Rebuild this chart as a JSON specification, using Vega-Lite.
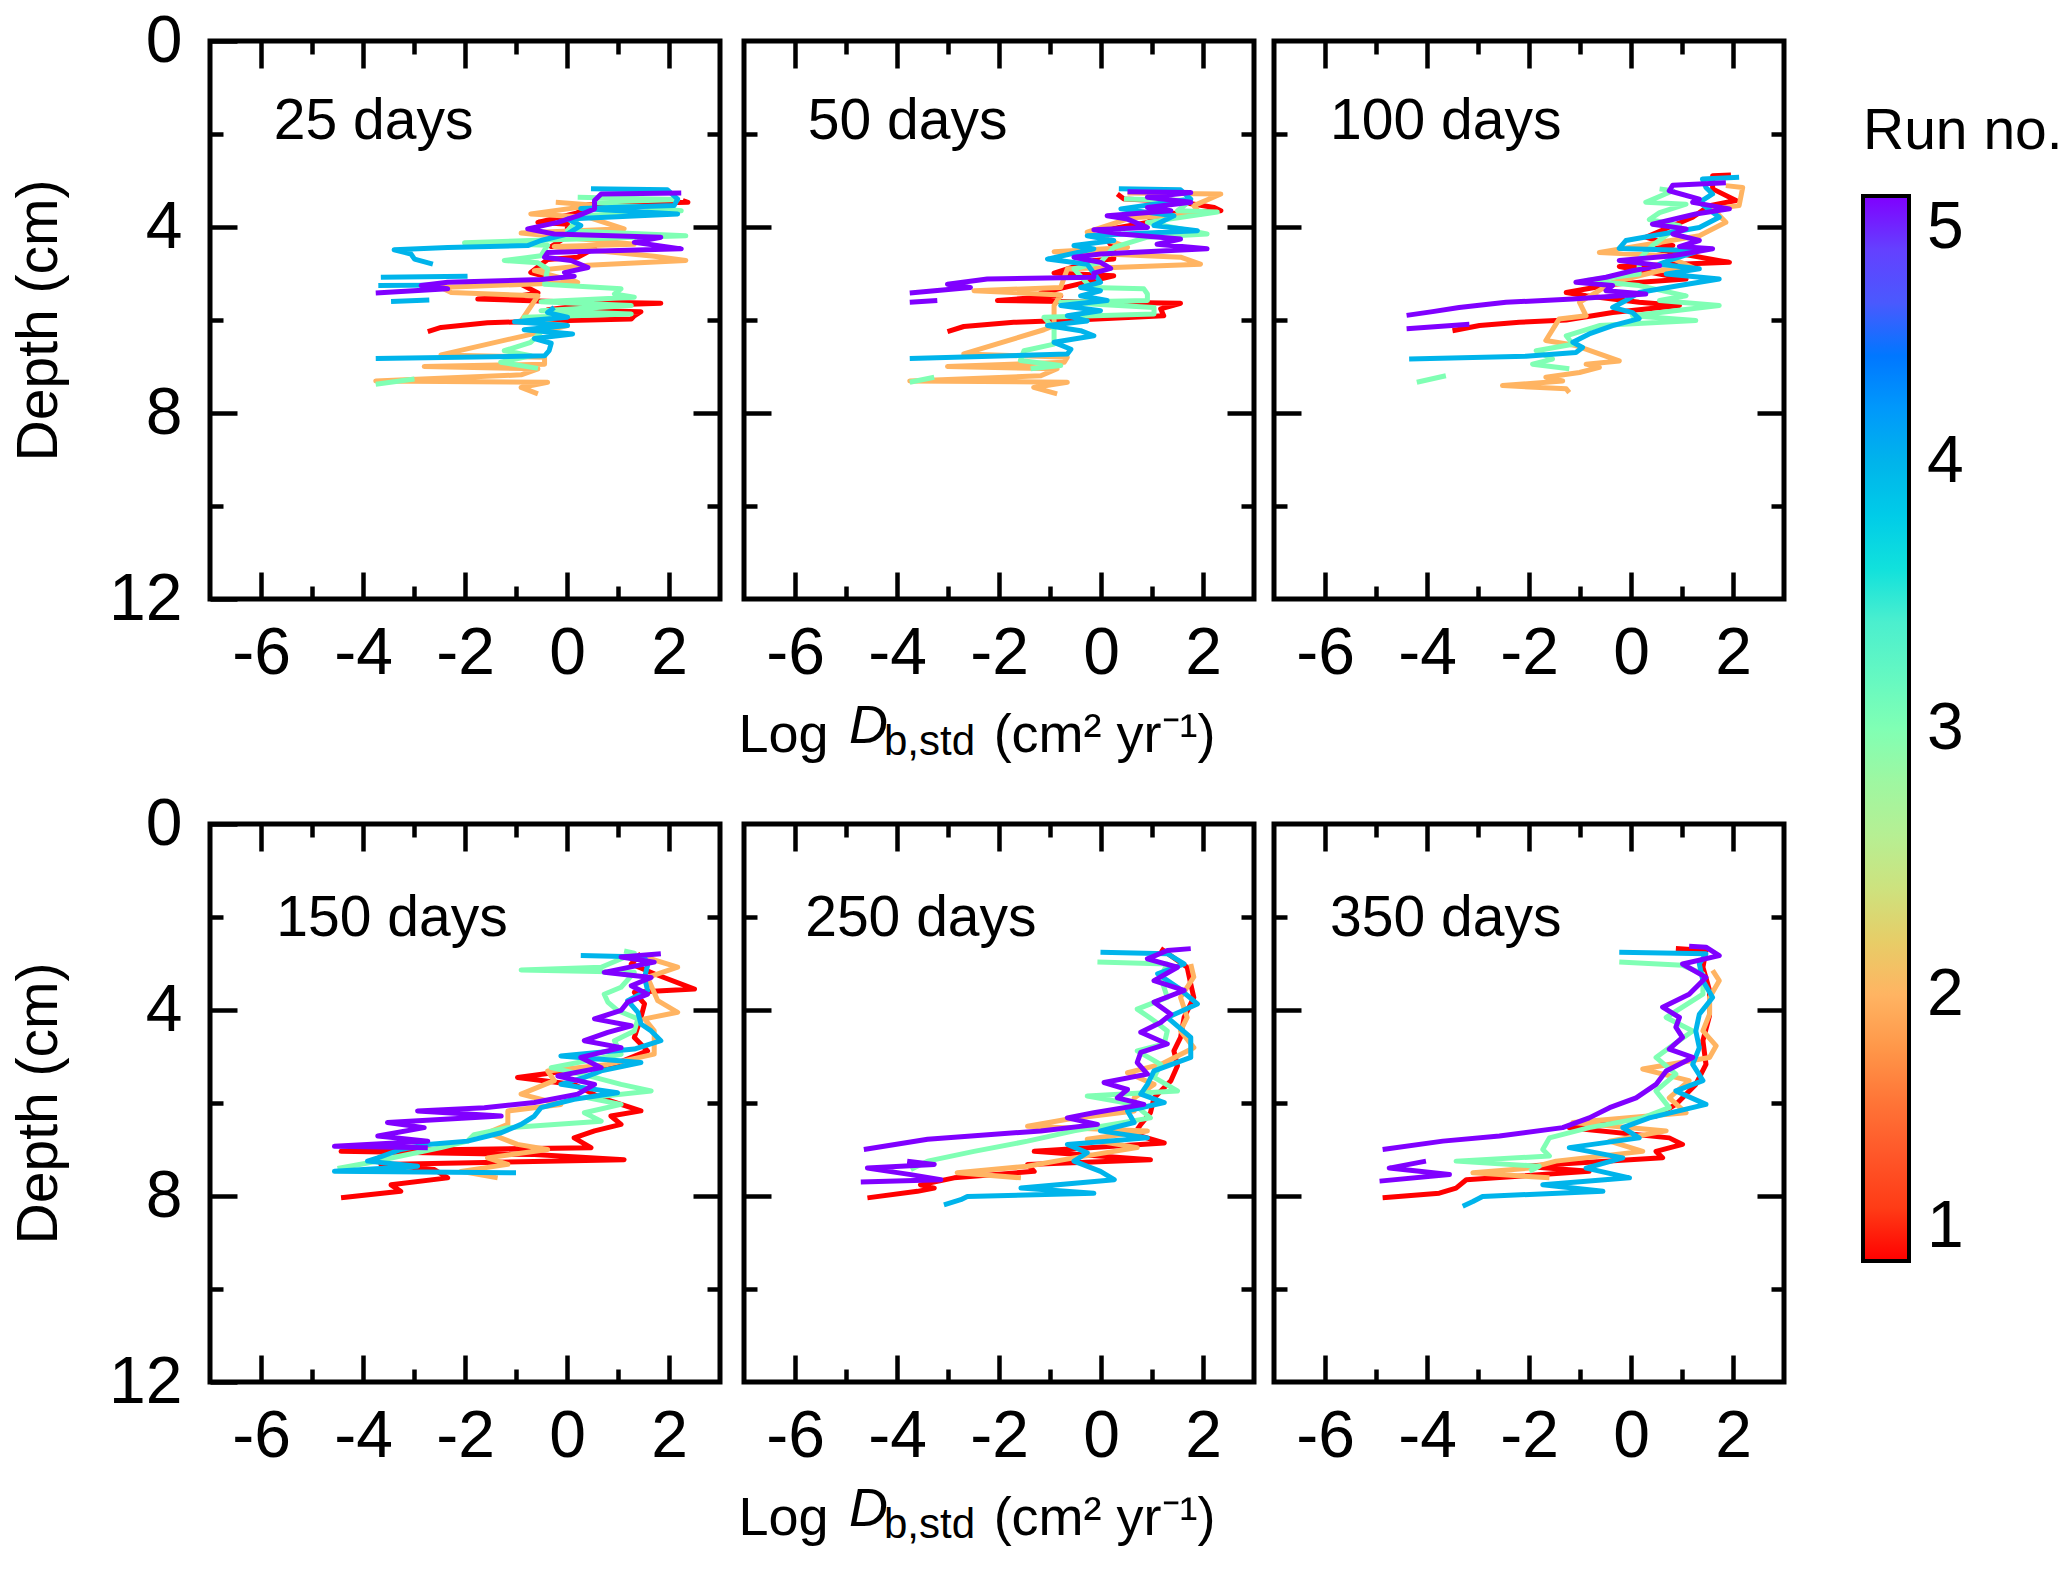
{
"$schema":"https://vega.github.io/schema/vega-lite/v6.json",
"background":"white",
"padding":{"left":8,"top":5,"right":0,"bottom":0},
"datasets":{"lab":[{}]},
"data":{"values":[
{"p":1,"r":1,"s":0,"d":3.43,"v":2.27},{"p":1,"r":1,"s":0,"d":3.47,"v":2.37},{"p":1,"r":1,"s":0,"d":3.52,"v":0.4},{"p":1,"r":1,"s":0,"d":3.70,"v":0.2},{"p":1,"r":1,"s":0,"d":3.90,"v":-0.57},{"p":1,"r":1,"s":0,"d":3.94,"v":0.01},{"p":1,"r":1,"s":0,"d":4.20,"v":0.0},{"p":1,"r":1,"s":0,"d":4.42,"v":-0.31},{"p":1,"r":1,"s":0,"d":4.46,"v":0.54},{"p":1,"r":1,"s":0,"d":4.65,"v":0.21},{"p":1,"r":1,"s":0,"d":4.70,"v":-0.38},{"p":1,"r":1,"s":0,"d":4.98,"v":-0.71},{"p":1,"r":1,"s":0,"d":5.10,"v":-0.3},{"p":1,"r":1,"s":0,"d":5.23,"v":-0.90},{"p":1,"r":1,"s":0,"d":5.42,"v":-0.57},{"p":1,"r":1,"s":0,"d":5.48,"v":-0.90},{"p":1,"r":1,"s":0,"d":5.55,"v":-1.75},{"p":1,"r":1,"s":0,"d":5.60,"v":-0.25},{"p":1,"r":1,"s":0,"d":5.64,"v":1.84},{"p":1,"r":1,"s":0,"d":5.70,"v":0.2},{"p":1,"r":1,"s":0,"d":5.78,"v":-0.38},{"p":1,"r":1,"s":0,"d":5.82,"v":1.45},{"p":1,"r":1,"s":0,"d":5.91,"v":1.32},{"p":1,"r":1,"s":0,"d":5.98,"v":1.26},{"p":1,"r":1,"s":0,"d":6.02,"v":-0.38},{"p":1,"r":1,"s":0,"d":6.06,"v":-1.56},{"p":1,"r":1,"s":0,"d":6.16,"v":-2.47},{"p":1,"r":1,"s":0,"d":6.25,"v":-2.73},
{"p":1,"r":2,"s":0,"d":3.47,"v":-0.22},{"p":1,"r":2,"s":0,"d":3.53,"v":0.54},{"p":1,"r":2,"s":0,"d":3.72,"v":-0.71},{"p":1,"r":2,"s":0,"d":3.79,"v":0.41},{"p":1,"r":2,"s":0,"d":4.04,"v":1.12},{"p":1,"r":2,"s":0,"d":4.13,"v":-0.90},{"p":1,"r":2,"s":0,"d":4.37,"v":1.32},{"p":1,"r":2,"s":0,"d":4.42,"v":-0.25},{"p":1,"r":2,"s":0,"d":4.63,"v":1.71},{"p":1,"r":2,"s":0,"d":4.72,"v":2.33},{"p":1,"r":2,"s":0,"d":4.82,"v":0.41},{"p":1,"r":2,"s":0,"d":4.94,"v":-0.64},{"p":1,"r":2,"s":0,"d":5.19,"v":0.21},{"p":1,"r":2,"s":0,"d":5.30,"v":-2.47},{"p":1,"r":2,"s":0,"d":5.41,"v":-2.27},{"p":1,"r":2,"s":0,"d":5.48,"v":-0.57},{"p":1,"r":2,"s":0,"d":6.02,"v":-0.90},{"p":1,"r":2,"s":0,"d":6.12,"v":0.01},{"p":1,"r":2,"s":0,"d":6.34,"v":-0.84},{"p":1,"r":2,"s":0,"d":6.75,"v":-2.47},{"p":1,"r":2,"s":0,"d":6.80,"v":-0.44},{"p":1,"r":2,"s":0,"d":6.95,"v":-0.44},{"p":1,"r":2,"s":0,"d":7.00,"v":-2.80},{"p":1,"r":2,"s":0,"d":7.05,"v":-0.57},{"p":1,"r":2,"s":0,"d":7.18,"v":-0.90},{"p":1,"r":2,"s":0,"d":7.31,"v":-3.75},{"p":1,"r":2,"s":0,"d":7.34,"v":-0.38},{"p":1,"r":2,"s":0,"d":7.45,"v":-0.90},{"p":1,"r":2,"s":0,"d":7.59,"v":-0.57},
{"p":1,"r":3,"s":0,"d":3.36,"v":0.21},{"p":1,"r":3,"s":0,"d":3.41,"v":2.17},{"p":1,"r":3,"s":0,"d":3.47,"v":0.54},{"p":1,"r":3,"s":0,"d":3.65,"v":2.24},{"p":1,"r":3,"s":0,"d":3.76,"v":0.27},{"p":1,"r":3,"s":0,"d":4.08,"v":0.01},{"p":1,"r":3,"s":0,"d":4.19,"v":2.33},{"p":1,"r":3,"s":0,"d":4.27,"v":-0.12},{"p":1,"r":3,"s":0,"d":4.34,"v":-2.01},{"p":1,"r":3,"s":0,"d":4.39,"v":-0.38},{"p":1,"r":3,"s":0,"d":4.62,"v":-0.51},{"p":1,"r":3,"s":0,"d":4.72,"v":-1.23},{"p":1,"r":3,"s":0,"d":4.77,"v":-0.57},{"p":1,"r":3,"s":0,"d":4.90,"v":-0.38},{"p":1,"r":3,"s":0,"d":5.23,"v":-0.44},{"p":1,"r":3,"s":0,"d":5.33,"v":1.06},{"p":1,"r":3,"s":0,"d":5.44,"v":0.93},{"p":1,"r":3,"s":0,"d":5.51,"v":1.32},{"p":1,"r":3,"s":0,"d":5.61,"v":-0.51},{"p":1,"r":3,"s":0,"d":5.69,"v":1.26},{"p":1,"r":3,"s":0,"d":5.80,"v":-0.51},{"p":1,"r":3,"s":0,"d":5.87,"v":1.26},{"p":1,"r":3,"s":0,"d":5.94,"v":-0.84},{"p":1,"r":3,"s":0,"d":6.12,"v":-0.38},{"p":1,"r":3,"s":0,"d":6.48,"v":-0.71},{"p":1,"r":3,"s":0,"d":6.66,"v":-1.23},{"p":1,"r":3,"s":0,"d":6.77,"v":-0.71},{"p":1,"r":3,"s":0,"d":6.91,"v":-1.30},{"p":1,"r":3,"s":0,"d":7.04,"v":-0.57},{"p":1,"r":3,"s":1,"d":7.27,"v":-2.99},{"p":1,"r":3,"s":1,"d":7.38,"v":-3.75},
{"p":1,"r":4,"s":0,"d":3.18,"v":0.47},{"p":1,"r":4,"s":0,"d":3.20,"v":1.97},{"p":1,"r":4,"s":0,"d":3.40,"v":2.17},{"p":1,"r":4,"s":0,"d":3.54,"v":2.10},{"p":1,"r":4,"s":0,"d":3.60,"v":0.27},{"p":1,"r":4,"s":0,"d":3.72,"v":2.17},{"p":1,"r":4,"s":0,"d":3.83,"v":0.01},{"p":1,"r":4,"s":0,"d":3.97,"v":0.27},{"p":1,"r":4,"s":0,"d":4.15,"v":0.01},{"p":1,"r":4,"s":0,"d":4.29,"v":-0.51},{"p":1,"r":4,"s":0,"d":4.40,"v":-0.77},{"p":1,"r":4,"s":0,"d":4.44,"v":-2.34},{"p":1,"r":4,"s":0,"d":4.49,"v":-3.39},{"p":1,"r":4,"s":0,"d":4.58,"v":-3.06},{"p":1,"r":4,"s":0,"d":4.69,"v":-2.99},{"p":1,"r":4,"s":0,"d":4.80,"v":-2.63},{"p":1,"r":4,"s":1,"d":5.06,"v":-1.95},{"p":1,"r":4,"s":1,"d":5.08,"v":-3.65},{"p":1,"r":4,"s":2,"d":5.25,"v":-2.60},{"p":1,"r":4,"s":2,"d":5.26,"v":-3.70},{"p":1,"r":4,"s":3,"d":5.57,"v":-2.70},{"p":1,"r":4,"s":3,"d":5.60,"v":-3.45},{"p":1,"r":4,"s":4,"d":5.73,"v":-0.25},{"p":1,"r":4,"s":4,"d":5.84,"v":-0.38},{"p":1,"r":4,"s":4,"d":5.94,"v":0.01},{"p":1,"r":4,"s":4,"d":6.04,"v":-1.03},{"p":1,"r":4,"s":4,"d":6.12,"v":0.01},{"p":1,"r":4,"s":4,"d":6.21,"v":-0.84},{"p":1,"r":4,"s":4,"d":6.30,"v":0.11},{"p":1,"r":4,"s":4,"d":6.40,"v":-0.64},{"p":1,"r":4,"s":4,"d":6.50,"v":-0.31},{"p":1,"r":4,"s":4,"d":6.66,"v":-0.35},{"p":1,"r":4,"s":4,"d":6.77,"v":-0.44},{"p":1,"r":4,"s":4,"d":6.83,"v":-3.75},
{"p":1,"r":5,"s":0,"d":3.27,"v":2.24},{"p":1,"r":5,"s":0,"d":3.29,"v":0.67},{"p":1,"r":5,"s":0,"d":3.43,"v":0.54},{"p":1,"r":5,"s":0,"d":3.61,"v":0.54},{"p":1,"r":5,"s":0,"d":3.76,"v":0.21},{"p":1,"r":5,"s":0,"d":3.90,"v":-0.18},{"p":1,"r":5,"s":0,"d":4.04,"v":-0.77},{"p":1,"r":5,"s":0,"d":4.15,"v":-0.25},{"p":1,"r":5,"s":0,"d":4.22,"v":1.84},{"p":1,"r":5,"s":0,"d":4.33,"v":1.32},{"p":1,"r":5,"s":0,"d":4.47,"v":2.24},{"p":1,"r":5,"s":0,"d":4.55,"v":-0.38},{"p":1,"r":5,"s":0,"d":4.65,"v":-0.44},{"p":1,"r":5,"s":0,"d":4.72,"v":0.08},{"p":1,"r":5,"s":0,"d":4.87,"v":0.41},{"p":1,"r":5,"s":0,"d":4.98,"v":-0.05},{"p":1,"r":5,"s":0,"d":5.06,"v":0.14},{"p":1,"r":5,"s":0,"d":5.13,"v":-0.51},{"p":1,"r":5,"s":0,"d":5.19,"v":-2.34},{"p":1,"r":5,"s":0,"d":5.26,"v":-2.86},{"p":1,"r":5,"s":0,"d":5.33,"v":-2.34},{"p":1,"r":5,"s":0,"d":5.42,"v":-3.75},
{"p":2,"r":1,"s":0,"d":3.29,"v":0.32},{"p":2,"r":1,"s":0,"d":3.40,"v":0.45},{"p":2,"r":1,"s":0,"d":3.45,"v":1.5},{"p":2,"r":1,"s":0,"d":3.58,"v":2.22},{"p":2,"r":1,"s":0,"d":3.65,"v":2.35},{"p":2,"r":1,"s":0,"d":3.72,"v":1.2},{"p":2,"r":1,"s":0,"d":3.90,"v":0.91},{"p":2,"r":1,"s":0,"d":4.08,"v":-0.01},{"p":2,"r":1,"s":0,"d":4.47,"v":0.25},{"p":2,"r":1,"s":0,"d":4.69,"v":0.25},{"p":2,"r":1,"s":0,"d":4.72,"v":-0.14},{"p":2,"r":1,"s":0,"d":4.99,"v":-0.92},{"p":2,"r":1,"s":0,"d":5.05,"v":0.25},{"p":2,"r":1,"s":0,"d":5.42,"v":-1.18},{"p":2,"r":1,"s":0,"d":5.48,"v":-0.79},{"p":2,"r":1,"s":0,"d":5.58,"v":-2.03},{"p":2,"r":1,"s":0,"d":5.61,"v":-0.5},{"p":2,"r":1,"s":0,"d":5.64,"v":1.56},{"p":2,"r":1,"s":0,"d":5.76,"v":1.17},{"p":2,"r":1,"s":0,"d":5.91,"v":1.23},{"p":2,"r":1,"s":0,"d":5.99,"v":-0.27},{"p":2,"r":1,"s":0,"d":6.05,"v":-1.71},{"p":2,"r":1,"s":0,"d":6.14,"v":-2.69},{"p":2,"r":1,"s":0,"d":6.25,"v":-3.01},
{"p":2,"r":2,"s":0,"d":3.27,"v":0.52},{"p":2,"r":2,"s":0,"d":3.29,"v":2.35},{"p":2,"r":2,"s":0,"d":3.54,"v":1.82},{"p":2,"r":2,"s":0,"d":3.72,"v":1.95},{"p":2,"r":2,"s":0,"d":3.80,"v":0.6},{"p":2,"r":2,"s":0,"d":4.11,"v":-0.27},{"p":2,"r":2,"s":0,"d":4.44,"v":0.52},{"p":2,"r":2,"s":0,"d":4.53,"v":-0.92},{"p":2,"r":2,"s":0,"d":4.65,"v":1.56},{"p":2,"r":2,"s":0,"d":4.80,"v":1.95},{"p":2,"r":2,"s":0,"d":4.87,"v":0.25},{"p":2,"r":2,"s":0,"d":4.90,"v":-0.66},{"p":2,"r":2,"s":0,"d":5.30,"v":-0.79},{"p":2,"r":2,"s":0,"d":5.37,"v":-2.49},{"p":2,"r":2,"s":0,"d":5.46,"v":-0.79},{"p":2,"r":2,"s":0,"d":5.69,"v":-0.92},{"p":2,"r":2,"s":0,"d":6.12,"v":-0.92},{"p":2,"r":2,"s":0,"d":6.21,"v":-1.12},{"p":2,"r":2,"s":0,"d":6.73,"v":-2.69},{"p":2,"r":2,"s":0,"d":6.80,"v":-0.66},{"p":2,"r":2,"s":0,"d":6.91,"v":-0.72},{"p":2,"r":2,"s":0,"d":7.00,"v":-3.01},{"p":2,"r":2,"s":0,"d":7.05,"v":-0.86},{"p":2,"r":2,"s":0,"d":7.20,"v":-1.18},{"p":2,"r":2,"s":0,"d":7.31,"v":-3.75},{"p":2,"r":2,"s":0,"d":7.34,"v":-0.66},{"p":2,"r":2,"s":0,"d":7.45,"v":-1.32},{"p":2,"r":2,"s":0,"d":7.59,"v":-0.86},
{"p":2,"r":3,"s":0,"d":3.40,"v":0.45},{"p":2,"r":3,"s":0,"d":3.43,"v":1.76},{"p":2,"r":3,"s":0,"d":3.65,"v":1.50},{"p":2,"r":3,"s":0,"d":3.68,"v":2.28},{"p":2,"r":3,"s":0,"d":3.90,"v":0.91},{"p":2,"r":3,"s":0,"d":4.15,"v":2.08},{"p":2,"r":3,"s":0,"d":4.22,"v":0.91},{"p":2,"r":3,"s":0,"d":4.44,"v":0.25},{"p":2,"r":3,"s":0,"d":4.76,"v":-0.01},{"p":2,"r":3,"s":0,"d":4.90,"v":-0.53},{"p":2,"r":3,"s":0,"d":5.30,"v":-0.20},{"p":2,"r":3,"s":0,"d":5.33,"v":0.84},{"p":2,"r":3,"s":0,"d":5.44,"v":0.91},{"p":2,"r":3,"s":0,"d":5.58,"v":0.91},{"p":2,"r":3,"s":0,"d":5.62,"v":-0.79},{"p":2,"r":3,"s":0,"d":5.73,"v":1.04},{"p":2,"r":3,"s":0,"d":5.87,"v":1.04},{"p":2,"r":3,"s":0,"d":5.94,"v":-1.12},{"p":2,"r":3,"s":0,"d":6.19,"v":-0.92},{"p":2,"r":3,"s":0,"d":6.52,"v":-0.92},{"p":2,"r":3,"s":0,"d":6.66,"v":-1.51},{"p":2,"r":3,"s":0,"d":6.87,"v":-1.58},{"p":2,"r":3,"s":0,"d":6.98,"v":-0.79},{"p":2,"r":3,"s":0,"d":7.05,"v":-1.38},{"p":2,"r":3,"s":1,"d":7.23,"v":-3.27},{"p":2,"r":3,"s":1,"d":7.34,"v":-3.75},
{"p":2,"r":4,"s":0,"d":3.18,"v":0.35},{"p":2,"r":4,"s":0,"d":3.20,"v":1.56},{"p":2,"r":4,"s":0,"d":3.40,"v":1.76},{"p":2,"r":4,"s":0,"d":3.61,"v":0.39},{"p":2,"r":4,"s":0,"d":3.76,"v":1.43},{"p":2,"r":4,"s":0,"d":3.90,"v":1.17},{"p":2,"r":4,"s":0,"d":3.97,"v":1.04},{"p":2,"r":4,"s":0,"d":4.08,"v":1.89},{"p":2,"r":4,"s":0,"d":4.19,"v":-0.27},{"p":2,"r":4,"s":0,"d":4.29,"v":0.25},{"p":2,"r":4,"s":0,"d":4.40,"v":-0.53},{"p":2,"r":4,"s":0,"d":4.47,"v":-0.14},{"p":2,"r":4,"s":0,"d":4.69,"v":-1.05},{"p":2,"r":4,"s":0,"d":4.80,"v":-0.27},{"p":2,"r":4,"s":0,"d":5.19,"v":-0.01},{"p":2,"r":4,"s":0,"d":5.30,"v":-0.40},{"p":2,"r":4,"s":0,"d":5.37,"v":-0.01},{"p":2,"r":4,"s":0,"d":5.48,"v":-0.40},{"p":2,"r":4,"s":0,"d":5.58,"v":0.12},{"p":2,"r":4,"s":0,"d":5.69,"v":-0.79},{"p":2,"r":4,"s":0,"d":5.80,"v":-0.01},{"p":2,"r":4,"s":0,"d":5.91,"v":-0.66},{"p":2,"r":4,"s":0,"d":6.02,"v":-0.27},{"p":2,"r":4,"s":0,"d":6.12,"v":-1.05},{"p":2,"r":4,"s":0,"d":6.23,"v":-0.40},{"p":2,"r":4,"s":0,"d":6.34,"v":-0.14},{"p":2,"r":4,"s":0,"d":6.48,"v":-0.92},{"p":2,"r":4,"s":0,"d":6.63,"v":-0.59},{"p":2,"r":4,"s":0,"d":6.73,"v":-0.66},{"p":2,"r":4,"s":0,"d":6.83,"v":-3.75},
{"p":2,"r":5,"s":0,"d":3.24,"v":0.52},{"p":2,"r":5,"s":0,"d":3.26,"v":1.76},{"p":2,"r":5,"s":0,"d":3.36,"v":0.91},{"p":2,"r":5,"s":0,"d":3.47,"v":1.76},{"p":2,"r":5,"s":0,"d":3.58,"v":0.91},{"p":2,"r":5,"s":0,"d":3.65,"v":1.37},{"p":2,"r":5,"s":0,"d":3.76,"v":0.12},{"p":2,"r":5,"s":0,"d":3.83,"v":0.52},{"p":2,"r":5,"s":0,"d":4.01,"v":0.91},{"p":2,"r":5,"s":0,"d":4.06,"v":-0.14},{"p":2,"r":5,"s":0,"d":4.15,"v":0.39},{"p":2,"r":5,"s":0,"d":4.26,"v":1.56},{"p":2,"r":5,"s":0,"d":4.37,"v":1.10},{"p":2,"r":5,"s":0,"d":4.47,"v":2.08},{"p":2,"r":5,"s":0,"d":4.58,"v":-0.01},{"p":2,"r":5,"s":0,"d":4.65,"v":-0.53},{"p":2,"r":5,"s":0,"d":4.76,"v":-0.01},{"p":2,"r":5,"s":0,"d":4.89,"v":0.19},{"p":2,"r":5,"s":0,"d":4.99,"v":-0.14},{"p":2,"r":5,"s":0,"d":5.08,"v":-0.14},{"p":2,"r":5,"s":0,"d":5.12,"v":-2.23},{"p":2,"r":5,"s":0,"d":5.23,"v":-3.01},{"p":2,"r":5,"s":0,"d":5.30,"v":-2.56},{"p":2,"r":5,"s":0,"d":5.42,"v":-3.75},{"p":2,"r":5,"s":1,"d":5.58,"v":-3.21},{"p":2,"r":5,"s":1,"d":5.62,"v":-3.75},
{"p":3,"r":1,"s":0,"d":2.88,"v":1.96},{"p":3,"r":1,"s":0,"d":2.90,"v":1.60},{"p":3,"r":1,"s":0,"d":3.18,"v":1.60},{"p":3,"r":1,"s":0,"d":3.43,"v":2.06},{"p":3,"r":1,"s":0,"d":3.54,"v":1.54},{"p":3,"r":1,"s":0,"d":3.79,"v":1.21},{"p":3,"r":1,"s":0,"d":4.22,"v":0.29},{"p":3,"r":1,"s":0,"d":4.40,"v":0.82},{"p":3,"r":1,"s":0,"d":4.47,"v":0.42},{"p":3,"r":1,"s":0,"d":4.76,"v":1.93},{"p":3,"r":1,"s":0,"d":4.85,"v":-0.23},{"p":3,"r":1,"s":0,"d":5.12,"v":1.08},{"p":3,"r":1,"s":0,"d":5.23,"v":-0.36},{"p":3,"r":1,"s":0,"d":5.41,"v":-1.27},{"p":3,"r":1,"s":0,"d":5.48,"v":-0.88},{"p":3,"r":1,"s":0,"d":5.62,"v":0.16},{"p":3,"r":1,"s":0,"d":5.69,"v":0.95},{"p":3,"r":1,"s":0,"d":5.84,"v":-0.36},{"p":3,"r":1,"s":0,"d":6.00,"v":-1.27},{"p":3,"r":1,"s":0,"d":6.05,"v":-2.19},{"p":3,"r":1,"s":0,"d":6.12,"v":-2.97},{"p":3,"r":1,"s":0,"d":6.23,"v":-3.50},
{"p":3,"r":2,"s":0,"d":3.11,"v":1.86},{"p":3,"r":2,"s":0,"d":3.15,"v":2.19},{"p":3,"r":2,"s":0,"d":3.54,"v":2.12},{"p":3,"r":2,"s":0,"d":3.61,"v":1.60},{"p":3,"r":2,"s":0,"d":3.90,"v":1.86},{"p":3,"r":2,"s":0,"d":4.19,"v":1.34},{"p":3,"r":2,"s":0,"d":4.55,"v":-0.62},{"p":3,"r":2,"s":0,"d":4.62,"v":0.69},{"p":3,"r":2,"s":0,"d":4.87,"v":1.21},{"p":3,"r":2,"s":0,"d":4.94,"v":0.56},{"p":3,"r":2,"s":0,"d":5.19,"v":-0.36},{"p":3,"r":2,"s":0,"d":5.62,"v":-1.01},{"p":3,"r":2,"s":0,"d":5.91,"v":-0.88},{"p":3,"r":2,"s":0,"d":5.98,"v":-1.41},{"p":3,"r":2,"s":0,"d":6.44,"v":-1.67},{"p":3,"r":2,"s":0,"d":6.55,"v":-1.08},{"p":3,"r":2,"s":0,"d":6.88,"v":-0.23},{"p":3,"r":2,"s":0,"d":6.95,"v":-0.88},{"p":3,"r":2,"s":0,"d":7.02,"v":-0.62},{"p":3,"r":2,"s":0,"d":7.13,"v":-1.01},{"p":3,"r":2,"s":0,"d":7.23,"v":-1.67},{"p":3,"r":2,"s":0,"d":7.31,"v":-1.34},{"p":3,"r":2,"s":0,"d":7.41,"v":-2.52},{"p":3,"r":2,"s":0,"d":7.48,"v":-1.27},{"p":3,"r":2,"s":0,"d":7.56,"v":-1.21},
{"p":3,"r":3,"s":0,"d":3.18,"v":0.56},{"p":3,"r":3,"s":0,"d":3.22,"v":0.82},{"p":3,"r":3,"s":0,"d":3.47,"v":0.29},{"p":3,"r":3,"s":0,"d":3.51,"v":1.08},{"p":3,"r":3,"s":0,"d":3.69,"v":0.56},{"p":3,"r":3,"s":0,"d":3.84,"v":0.36},{"p":3,"r":3,"s":0,"d":3.97,"v":0.95},{"p":3,"r":3,"s":0,"d":4.40,"v":0.42},{"p":3,"r":3,"s":0,"d":4.69,"v":0.16},{"p":3,"r":3,"s":0,"d":5.01,"v":0.16},{"p":3,"r":3,"s":0,"d":5.15,"v":-0.88},{"p":3,"r":3,"s":0,"d":5.26,"v":0.16},{"p":3,"r":3,"s":0,"d":5.48,"v":1.08},{"p":3,"r":3,"s":0,"d":5.58,"v":0.56},{"p":3,"r":3,"s":0,"d":5.69,"v":1.73},{"p":3,"r":3,"s":0,"d":5.91,"v":0.03},{"p":3,"r":3,"s":0,"d":6.01,"v":1.27},{"p":3,"r":3,"s":0,"d":6.12,"v":-0.62},{"p":3,"r":3,"s":0,"d":6.34,"v":-1.27},{"p":3,"r":3,"s":0,"d":6.52,"v":-1.14},{"p":3,"r":3,"s":0,"d":6.66,"v":-1.86},{"p":3,"r":3,"s":0,"d":6.84,"v":-1.54},{"p":3,"r":3,"s":0,"d":6.95,"v":-1.93},{"p":3,"r":3,"s":0,"d":7.05,"v":-1.21},{"p":3,"r":3,"s":1,"d":7.20,"v":-3.63},{"p":3,"r":3,"s":1,"d":7.34,"v":-4.20},
{"p":3,"r":4,"s":0,"d":2.93,"v":2.12},{"p":3,"r":4,"s":0,"d":2.97,"v":1.40},{"p":3,"r":4,"s":0,"d":3.15,"v":1.47},{"p":3,"r":4,"s":0,"d":3.29,"v":1.60},{"p":3,"r":4,"s":0,"d":3.47,"v":1.34},{"p":3,"r":4,"s":0,"d":3.79,"v":1.73},{"p":3,"r":4,"s":0,"d":4.01,"v":1.34},{"p":3,"r":4,"s":0,"d":4.29,"v":-0.10},{"p":3,"r":4,"s":0,"d":4.46,"v":-0.23},{"p":3,"r":4,"s":0,"d":4.51,"v":1.34},{"p":3,"r":4,"s":0,"d":4.69,"v":0.82},{"p":3,"r":4,"s":0,"d":4.80,"v":0.56},{"p":3,"r":4,"s":0,"d":4.90,"v":1.34},{"p":3,"r":4,"s":0,"d":5.01,"v":0.69},{"p":3,"r":4,"s":0,"d":5.12,"v":1.73},{"p":3,"r":4,"s":0,"d":5.26,"v":0.95},{"p":3,"r":4,"s":0,"d":5.41,"v":0.16},{"p":3,"r":4,"s":0,"d":5.58,"v":-0.10},{"p":3,"r":4,"s":0,"d":5.73,"v":-0.36},{"p":3,"r":4,"s":0,"d":5.84,"v":0.03},{"p":3,"r":4,"s":0,"d":5.97,"v":0.16},{"p":3,"r":4,"s":0,"d":6.12,"v":-0.36},{"p":3,"r":4,"s":0,"d":6.30,"v":-0.82},{"p":3,"r":4,"s":0,"d":6.48,"v":-1.14},{"p":3,"r":4,"s":0,"d":6.59,"v":-0.95},{"p":3,"r":4,"s":0,"d":6.70,"v":-1.08},{"p":3,"r":4,"s":0,"d":6.78,"v":-2.06},{"p":3,"r":4,"s":0,"d":6.84,"v":-4.35},
{"p":3,"r":5,"s":0,"d":3.05,"v":1.86},{"p":3,"r":5,"s":0,"d":3.10,"v":0.82},{"p":3,"r":5,"s":0,"d":3.22,"v":0.75},{"p":3,"r":5,"s":0,"d":3.40,"v":1.34},{"p":3,"r":5,"s":0,"d":3.47,"v":1.21},{"p":3,"r":5,"s":0,"d":3.61,"v":1.93},{"p":3,"r":5,"s":0,"d":3.72,"v":1.27},{"p":3,"r":5,"s":0,"d":3.94,"v":0.42},{"p":3,"r":5,"s":0,"d":4.04,"v":1.08},{"p":3,"r":5,"s":0,"d":4.15,"v":0.82},{"p":3,"r":5,"s":0,"d":4.29,"v":1.34},{"p":3,"r":5,"s":0,"d":4.42,"v":0.95},{"p":3,"r":5,"s":0,"d":4.47,"v":1.60},{"p":3,"r":5,"s":0,"d":4.62,"v":0.82},{"p":3,"r":5,"s":0,"d":4.72,"v":-0.23},{"p":3,"r":5,"s":0,"d":4.83,"v":0.56},{"p":3,"r":5,"s":0,"d":4.94,"v":0.03},{"p":3,"r":5,"s":0,"d":5.08,"v":-0.49},{"p":3,"r":5,"s":0,"d":5.19,"v":-1.08},{"p":3,"r":5,"s":0,"d":5.26,"v":-0.36},{"p":3,"r":5,"s":0,"d":5.37,"v":-0.49},{"p":3,"r":5,"s":0,"d":5.44,"v":0.29},{"p":3,"r":5,"s":0,"d":5.55,"v":-1.14},{"p":3,"r":5,"s":0,"d":5.62,"v":-2.45},{"p":3,"r":5,"s":0,"d":5.73,"v":-3.37},{"p":3,"r":5,"s":0,"d":5.82,"v":-3.89},{"p":3,"r":5,"s":0,"d":5.90,"v":-4.40},{"p":3,"r":5,"s":1,"d":6.09,"v":-3.17},{"p":3,"r":5,"s":1,"d":6.19,"v":-4.40},
{"p":4,"r":1,"s":0,"d":2.79,"v":1.45},{"p":4,"r":1,"s":0,"d":3.01,"v":1.26},{"p":4,"r":1,"s":0,"d":3.22,"v":1.71},{"p":4,"r":1,"s":0,"d":3.55,"v":2.50},{"p":4,"r":1,"s":0,"d":3.62,"v":1.32},{"p":4,"r":1,"s":0,"d":3.87,"v":1.52},{"p":4,"r":1,"s":0,"d":4.16,"v":1.45},{"p":4,"r":1,"s":0,"d":4.59,"v":1.32},{"p":4,"r":1,"s":0,"d":4.88,"v":1.58},{"p":4,"r":1,"s":0,"d":5.17,"v":0.93},{"p":4,"r":1,"s":0,"d":5.45,"v":-0.97},{"p":4,"r":1,"s":0,"d":5.60,"v":0.14},{"p":4,"r":1,"s":0,"d":5.89,"v":0.67},{"p":4,"r":1,"s":0,"d":6.17,"v":1.45},{"p":4,"r":1,"s":0,"d":6.28,"v":0.86},{"p":4,"r":1,"s":0,"d":6.46,"v":1.06},{"p":4,"r":1,"s":0,"d":6.60,"v":0.54},{"p":4,"r":1,"s":0,"d":6.75,"v":0.14},{"p":4,"r":1,"s":0,"d":6.96,"v":0.47},{"p":4,"r":1,"s":0,"d":7.04,"v":-4.43},{"p":4,"r":1,"s":0,"d":7.11,"v":-0.64},{"p":4,"r":1,"s":0,"d":7.22,"v":1.12},{"p":4,"r":1,"s":0,"d":7.32,"v":-3.65},{"p":4,"r":1,"s":0,"d":7.43,"v":-2.60},{"p":4,"r":1,"s":0,"d":7.61,"v":-2.34},{"p":4,"r":1,"s":0,"d":7.76,"v":-3.45},{"p":4,"r":1,"s":0,"d":7.90,"v":-3.26},{"p":4,"r":1,"s":0,"d":8.04,"v":-4.43},
{"p":4,"r":2,"s":0,"d":2.86,"v":1.52},{"p":4,"r":2,"s":0,"d":3.08,"v":2.17},{"p":4,"r":2,"s":0,"d":3.30,"v":1.58},{"p":4,"r":2,"s":0,"d":3.80,"v":1.78},{"p":4,"r":2,"s":0,"d":4.05,"v":2.17},{"p":4,"r":2,"s":0,"d":4.19,"v":1.52},{"p":4,"r":2,"s":0,"d":4.45,"v":1.71},{"p":4,"r":2,"s":0,"d":4.66,"v":1.71},{"p":4,"r":2,"s":0,"d":4.95,"v":1.71},{"p":4,"r":2,"s":0,"d":5.17,"v":0.80},{"p":4,"r":2,"s":0,"d":5.31,"v":-0.38},{"p":4,"r":2,"s":0,"d":5.52,"v":-0.25},{"p":4,"r":2,"s":0,"d":5.81,"v":-0.90},{"p":4,"r":2,"s":0,"d":6.03,"v":-0.12},{"p":4,"r":2,"s":0,"d":6.17,"v":-1.16},{"p":4,"r":2,"s":0,"d":6.46,"v":-1.16},{"p":4,"r":2,"s":0,"d":6.64,"v":-1.56},{"p":4,"r":2,"s":0,"d":6.89,"v":-0.97},{"p":4,"r":2,"s":0,"d":7.00,"v":-0.38},{"p":4,"r":2,"s":0,"d":7.18,"v":-1.56},{"p":4,"r":2,"s":0,"d":7.32,"v":-1.16},{"p":4,"r":2,"s":0,"d":7.47,"v":-2.08},{"p":4,"r":2,"s":0,"d":7.61,"v":-1.36},
{"p":4,"r":3,"s":0,"d":2.73,"v":1.12},{"p":4,"r":3,"s":0,"d":2.78,"v":1.32},{"p":4,"r":3,"s":0,"d":3.08,"v":0.67},{"p":4,"r":3,"s":0,"d":3.14,"v":-0.90},{"p":4,"r":3,"s":0,"d":3.19,"v":1.32},{"p":4,"r":3,"s":0,"d":3.51,"v":1.06},{"p":4,"r":3,"s":0,"d":3.66,"v":0.73},{"p":4,"r":3,"s":0,"d":3.83,"v":0.80},{"p":4,"r":3,"s":0,"d":4.01,"v":0.99},{"p":4,"r":3,"s":0,"d":4.19,"v":1.39},{"p":4,"r":3,"s":0,"d":4.45,"v":1.32},{"p":4,"r":3,"s":0,"d":4.66,"v":0.93},{"p":4,"r":3,"s":0,"d":4.95,"v":1.06},{"p":4,"r":3,"s":0,"d":5.24,"v":-0.31},{"p":4,"r":3,"s":0,"d":5.45,"v":0.54},{"p":4,"r":3,"s":0,"d":5.60,"v":1.06},{"p":4,"r":3,"s":0,"d":5.74,"v":1.65},{"p":4,"r":3,"s":0,"d":5.89,"v":0.41},{"p":4,"r":3,"s":0,"d":6.03,"v":1.06},{"p":4,"r":3,"s":0,"d":6.21,"v":0.34},{"p":4,"r":3,"s":0,"d":6.39,"v":0.67},{"p":4,"r":3,"s":0,"d":6.53,"v":-1.16},{"p":4,"r":3,"s":0,"d":6.68,"v":-1.82},{"p":4,"r":3,"s":0,"d":6.82,"v":-1.95},{"p":4,"r":3,"s":0,"d":6.96,"v":-2.47},{"p":4,"r":3,"s":0,"d":7.14,"v":-3.26},{"p":4,"r":3,"s":0,"d":7.29,"v":-3.91},{"p":4,"r":3,"s":0,"d":7.41,"v":-4.50},
{"p":4,"r":4,"s":0,"d":2.83,"v":0.27},{"p":4,"r":4,"s":0,"d":2.86,"v":1.52},{"p":4,"r":4,"s":0,"d":3.04,"v":1.58},{"p":4,"r":4,"s":0,"d":3.30,"v":1.52},{"p":4,"r":4,"s":0,"d":3.58,"v":1.58},{"p":4,"r":4,"s":0,"d":3.80,"v":1.19},{"p":4,"r":4,"s":0,"d":4.05,"v":1.39},{"p":4,"r":4,"s":0,"d":4.30,"v":1.45},{"p":4,"r":4,"s":0,"d":4.45,"v":1.65},{"p":4,"r":4,"s":0,"d":4.66,"v":1.84},{"p":4,"r":4,"s":0,"d":4.84,"v":1.32},{"p":4,"r":4,"s":0,"d":4.99,"v":-0.12},{"p":4,"r":4,"s":0,"d":5.13,"v":1.45},{"p":4,"r":4,"s":0,"d":5.31,"v":0.67},{"p":4,"r":4,"s":0,"d":5.45,"v":0.34},{"p":4,"r":4,"s":0,"d":5.60,"v":-0.12},{"p":4,"r":4,"s":0,"d":5.78,"v":0.99},{"p":4,"r":4,"s":0,"d":5.92,"v":0.14},{"p":4,"r":4,"s":0,"d":6.10,"v":-0.51},{"p":4,"r":4,"s":0,"d":6.28,"v":-0.64},{"p":4,"r":4,"s":0,"d":6.46,"v":-0.90},{"p":4,"r":4,"s":0,"d":6.64,"v":-1.29},{"p":4,"r":4,"s":0,"d":6.82,"v":-1.95},{"p":4,"r":4,"s":0,"d":6.89,"v":-2.73},{"p":4,"r":4,"s":0,"d":7.00,"v":-3.26},{"p":4,"r":4,"s":0,"d":7.18,"v":-3.71},{"p":4,"r":4,"s":0,"d":7.25,"v":-3.91},{"p":4,"r":4,"s":0,"d":7.36,"v":-2.93},{"p":4,"r":4,"s":0,"d":7.47,"v":-4.56},{"p":4,"r":4,"s":0,"d":7.50,"v":-1.00},
{"p":4,"r":5,"s":0,"d":2.79,"v":1.84},{"p":4,"r":5,"s":0,"d":2.86,"v":1.06},{"p":4,"r":5,"s":0,"d":2.97,"v":1.71},{"p":4,"r":5,"s":0,"d":3.19,"v":0.73},{"p":4,"r":5,"s":0,"d":3.30,"v":1.65},{"p":4,"r":5,"s":0,"d":3.48,"v":1.26},{"p":4,"r":5,"s":0,"d":3.66,"v":1.58},{"p":4,"r":5,"s":0,"d":3.83,"v":1.19},{"p":4,"r":5,"s":0,"d":4.01,"v":1.06},{"p":4,"r":5,"s":0,"d":4.19,"v":0.54},{"p":4,"r":5,"s":0,"d":4.34,"v":1.26},{"p":4,"r":5,"s":0,"d":4.48,"v":0.80},{"p":4,"r":5,"s":0,"d":4.66,"v":0.34},{"p":4,"r":5,"s":0,"d":4.81,"v":1.06},{"p":4,"r":5,"s":0,"d":5.02,"v":0.27},{"p":4,"r":5,"s":0,"d":5.24,"v":0.67},{"p":4,"r":5,"s":0,"d":5.42,"v":-0.18},{"p":4,"r":5,"s":0,"d":5.60,"v":0.54},{"p":4,"r":5,"s":0,"d":5.81,"v":0.21},{"p":4,"r":5,"s":0,"d":5.99,"v":-0.64},{"p":4,"r":5,"s":0,"d":6.10,"v":-1.62},{"p":4,"r":5,"s":0,"d":6.17,"v":-2.93},{"p":4,"r":5,"s":0,"d":6.28,"v":-1.29},{"p":4,"r":5,"s":0,"d":6.42,"v":-3.52},{"p":4,"r":5,"s":0,"d":6.53,"v":-2.80},{"p":4,"r":5,"s":0,"d":6.71,"v":-3.71},{"p":4,"r":5,"s":0,"d":6.82,"v":-2.73},{"p":4,"r":5,"s":0,"d":6.93,"v":-4.56},{"p":4,"r":5,"s":0,"d":6.96,"v":-2.73},
{"p":5,"r":1,"s":0,"d":2.68,"v":1.17},{"p":5,"r":1,"s":0,"d":3.08,"v":1.69},{"p":5,"r":1,"s":0,"d":3.44,"v":1.76},{"p":5,"r":1,"s":0,"d":3.73,"v":1.82},{"p":5,"r":1,"s":0,"d":4.16,"v":1.63},{"p":5,"r":1,"s":0,"d":4.59,"v":1.56},{"p":5,"r":1,"s":0,"d":4.88,"v":1.43},{"p":5,"r":1,"s":0,"d":5.20,"v":1.50},{"p":5,"r":1,"s":0,"d":5.52,"v":1.37},{"p":5,"r":1,"s":0,"d":5.89,"v":1.04},{"p":5,"r":1,"s":0,"d":6.21,"v":0.97},{"p":5,"r":1,"s":0,"d":6.46,"v":0.78},{"p":5,"r":1,"s":0,"d":6.67,"v":0.65},{"p":5,"r":1,"s":0,"d":6.86,"v":1.24},{"p":5,"r":1,"s":0,"d":7.04,"v":-1.31},{"p":5,"r":1,"s":0,"d":7.22,"v":0.97},{"p":5,"r":1,"s":0,"d":7.32,"v":-1.44},{"p":5,"r":1,"s":0,"d":7.47,"v":-1.31},{"p":5,"r":1,"s":0,"d":7.61,"v":-2.88},{"p":5,"r":1,"s":0,"d":7.76,"v":-3.54},{"p":5,"r":1,"s":0,"d":7.83,"v":-3.27},{"p":5,"r":1,"s":0,"d":7.90,"v":-3.60},{"p":5,"r":1,"s":0,"d":8.04,"v":-4.58},
{"p":5,"r":2,"s":0,"d":3.01,"v":1.76},{"p":5,"r":2,"s":0,"d":3.29,"v":1.82},{"p":5,"r":2,"s":0,"d":3.73,"v":1.56},{"p":5,"r":2,"s":0,"d":4.16,"v":1.69},{"p":5,"r":2,"s":0,"d":4.45,"v":1.56},{"p":5,"r":2,"s":0,"d":4.81,"v":1.82},{"p":5,"r":2,"s":0,"d":5.17,"v":1.17},{"p":5,"r":2,"s":0,"d":5.35,"v":0.52},{"p":5,"r":2,"s":0,"d":5.60,"v":1.04},{"p":5,"r":2,"s":0,"d":5.89,"v":0.65},{"p":5,"r":2,"s":0,"d":6.17,"v":0.65},{"p":5,"r":2,"s":0,"d":6.35,"v":-0.66},{"p":5,"r":2,"s":0,"d":6.50,"v":-1.44},{"p":5,"r":2,"s":0,"d":6.60,"v":0.91},{"p":5,"r":2,"s":0,"d":6.78,"v":-0.27},{"p":5,"r":2,"s":0,"d":6.96,"v":0.71},{"p":5,"r":2,"s":0,"d":7.18,"v":-0.53},{"p":5,"r":2,"s":0,"d":7.36,"v":-1.44},{"p":5,"r":2,"s":0,"d":7.50,"v":-2.82},{"p":5,"r":2,"s":0,"d":7.61,"v":-1.57},
{"p":5,"r":3,"s":0,"d":2.97,"v":-0.07},{"p":5,"r":3,"s":0,"d":3.01,"v":1.30},{"p":5,"r":3,"s":0,"d":3.29,"v":1.17},{"p":5,"r":3,"s":0,"d":3.73,"v":1.30},{"p":5,"r":3,"s":0,"d":3.98,"v":0.71},{"p":5,"r":3,"s":0,"d":4.23,"v":1.04},{"p":5,"r":3,"s":0,"d":4.45,"v":1.30},{"p":5,"r":3,"s":0,"d":4.73,"v":1.24},{"p":5,"r":3,"s":0,"d":4.88,"v":0.71},{"p":5,"r":3,"s":0,"d":5.17,"v":1.17},{"p":5,"r":3,"s":0,"d":5.45,"v":1.04},{"p":5,"r":3,"s":0,"d":5.74,"v":1.50},{"p":5,"r":3,"s":0,"d":5.85,"v":-0.27},{"p":5,"r":3,"s":0,"d":6.03,"v":0.65},{"p":5,"r":3,"s":0,"d":6.32,"v":0.97},{"p":5,"r":3,"s":0,"d":6.60,"v":-0.53},{"p":5,"r":3,"s":0,"d":6.82,"v":-1.44},{"p":5,"r":3,"s":0,"d":7.04,"v":-2.49},{"p":5,"r":3,"s":0,"d":7.25,"v":-3.40},{"p":5,"r":3,"s":0,"d":7.43,"v":-3.73},
{"p":5,"r":4,"s":0,"d":2.76,"v":-0.01},{"p":5,"r":4,"s":0,"d":2.79,"v":1.30},{"p":5,"r":4,"s":0,"d":3.01,"v":1.63},{"p":5,"r":4,"s":0,"d":3.22,"v":1.11},{"p":5,"r":4,"s":0,"d":3.51,"v":1.50},{"p":5,"r":4,"s":0,"d":3.87,"v":1.89},{"p":5,"r":4,"s":0,"d":4.16,"v":1.30},{"p":5,"r":4,"s":0,"d":4.59,"v":1.76},{"p":5,"r":4,"s":0,"d":5.02,"v":1.76},{"p":5,"r":4,"s":0,"d":5.31,"v":1.04},{"p":5,"r":4,"s":0,"d":5.60,"v":0.91},{"p":5,"r":4,"s":0,"d":5.81,"v":0.78},{"p":5,"r":4,"s":0,"d":5.99,"v":1.24},{"p":5,"r":4,"s":0,"d":6.17,"v":0.52},{"p":5,"r":4,"s":0,"d":6.42,"v":0.65},{"p":5,"r":4,"s":0,"d":6.60,"v":-0.01},{"p":5,"r":4,"s":0,"d":6.75,"v":0.91},{"p":5,"r":4,"s":0,"d":6.89,"v":-0.66},{"p":5,"r":4,"s":0,"d":7.07,"v":-0.27},{"p":5,"r":4,"s":0,"d":7.25,"v":-0.53},{"p":5,"r":4,"s":0,"d":7.47,"v":-0.01},{"p":5,"r":4,"s":0,"d":7.65,"v":0.26},{"p":5,"r":4,"s":0,"d":7.83,"v":-1.57},{"p":5,"r":4,"s":0,"d":7.94,"v":-0.14},{"p":5,"r":4,"s":0,"d":8.01,"v":-2.62},{"p":5,"r":4,"s":0,"d":8.08,"v":-2.75},{"p":5,"r":4,"s":0,"d":8.19,"v":-3.08},
{"p":5,"r":5,"s":0,"d":2.68,"v":1.76},{"p":5,"r":5,"s":0,"d":2.72,"v":1.30},{"p":5,"r":5,"s":0,"d":2.90,"v":0.91},{"p":5,"r":5,"s":0,"d":3.08,"v":1.50},{"p":5,"r":5,"s":0,"d":3.37,"v":1.04},{"p":5,"r":5,"s":0,"d":3.58,"v":1.63},{"p":5,"r":5,"s":0,"d":3.83,"v":1.04},{"p":5,"r":5,"s":0,"d":4.09,"v":1.37},{"p":5,"r":5,"s":0,"d":4.27,"v":1.17},{"p":5,"r":5,"s":0,"d":4.48,"v":0.78},{"p":5,"r":5,"s":0,"d":4.73,"v":1.30},{"p":5,"r":5,"s":0,"d":4.91,"v":0.78},{"p":5,"r":5,"s":0,"d":5.13,"v":0.71},{"p":5,"r":5,"s":0,"d":5.38,"v":0.91},{"p":5,"r":5,"s":0,"d":5.56,"v":0.06},{"p":5,"r":5,"s":0,"d":5.71,"v":0.52},{"p":5,"r":5,"s":0,"d":5.89,"v":0.32},{"p":5,"r":5,"s":0,"d":6.03,"v":0.84},{"p":5,"r":5,"s":0,"d":6.21,"v":-0.14},{"p":5,"r":5,"s":0,"d":6.32,"v":-0.66},{"p":5,"r":5,"s":0,"d":6.46,"v":-0.07},{"p":5,"r":5,"s":0,"d":6.60,"v":-1.18},{"p":5,"r":5,"s":0,"d":6.78,"v":-3.40},{"p":5,"r":5,"s":0,"d":7.00,"v":-4.65},{"p":5,"r":5,"s":1,"d":7.25,"v":-3.80},{"p":5,"r":5,"s":1,"d":7.32,"v":-3.27},{"p":5,"r":5,"s":1,"d":7.40,"v":-4.58},{"p":5,"r":5,"s":1,"d":7.54,"v":-3.73},{"p":5,"r":5,"s":1,"d":7.65,"v":-3.14},{"p":5,"r":5,"s":1,"d":7.70,"v":-4.71},
{"p":6,"r":1,"s":0,"d":2.68,"v":0.88},{"p":6,"r":1,"s":0,"d":2.72,"v":1.47},{"p":6,"r":1,"s":0,"d":3.08,"v":1.41},{"p":6,"r":1,"s":0,"d":3.58,"v":1.54},{"p":6,"r":1,"s":0,"d":4.12,"v":1.54},{"p":6,"r":1,"s":0,"d":4.66,"v":1.41},{"p":6,"r":1,"s":0,"d":5.17,"v":1.47},{"p":6,"r":1,"s":0,"d":5.60,"v":1.27},{"p":6,"r":1,"s":0,"d":6.03,"v":0.88},{"p":6,"r":1,"s":0,"d":6.28,"v":0.49},{"p":6,"r":1,"s":0,"d":6.53,"v":-1.21},{"p":6,"r":1,"s":0,"d":6.75,"v":0.75},{"p":6,"r":1,"s":0,"d":6.89,"v":1.01},{"p":6,"r":1,"s":0,"d":7.04,"v":0.49},{"p":6,"r":1,"s":0,"d":7.18,"v":0.62},{"p":6,"r":1,"s":0,"d":7.36,"v":-2.12},{"p":6,"r":1,"s":0,"d":7.47,"v":-0.82},{"p":6,"r":1,"s":0,"d":7.65,"v":-3.23},{"p":6,"r":1,"s":0,"d":7.83,"v":-3.43},{"p":6,"r":1,"s":0,"d":7.94,"v":-3.76},{"p":6,"r":1,"s":0,"d":8.04,"v":-4.87},
{"p":6,"r":2,"s":0,"d":3.15,"v":1.60},{"p":6,"r":2,"s":0,"d":3.37,"v":1.73},{"p":6,"r":2,"s":0,"d":3.73,"v":1.54},{"p":6,"r":2,"s":0,"d":4.09,"v":1.54},{"p":6,"r":2,"s":0,"d":4.45,"v":1.41},{"p":6,"r":2,"s":0,"d":4.77,"v":1.67},{"p":6,"r":2,"s":0,"d":5.02,"v":1.54},{"p":6,"r":2,"s":0,"d":5.27,"v":0.23},{"p":6,"r":2,"s":0,"d":5.52,"v":1.14},{"p":6,"r":2,"s":0,"d":5.89,"v":0.75},{"p":6,"r":2,"s":0,"d":6.21,"v":1.08},{"p":6,"r":2,"s":0,"d":6.42,"v":-1.14},{"p":6,"r":2,"s":0,"d":6.60,"v":0.69},{"p":6,"r":2,"s":0,"d":6.82,"v":-0.42},{"p":6,"r":2,"s":0,"d":7.04,"v":0.23},{"p":6,"r":2,"s":0,"d":7.25,"v":-1.47},{"p":6,"r":2,"s":0,"d":7.40,"v":-1.99},{"p":6,"r":2,"s":0,"d":7.50,"v":-3.10},{"p":6,"r":2,"s":0,"d":7.61,"v":-1.60},
{"p":6,"r":3,"s":0,"d":2.97,"v":-0.23},{"p":6,"r":3,"s":0,"d":3.04,"v":1.01},{"p":6,"r":3,"s":0,"d":3.22,"v":1.41},{"p":6,"r":3,"s":0,"d":3.66,"v":1.41},{"p":6,"r":3,"s":0,"d":4.16,"v":0.69},{"p":6,"r":3,"s":0,"d":4.45,"v":1.21},{"p":6,"r":3,"s":0,"d":4.81,"v":0.75},{"p":6,"r":3,"s":0,"d":5.02,"v":0.49},{"p":6,"r":3,"s":0,"d":5.38,"v":0.88},{"p":6,"r":3,"s":0,"d":5.74,"v":0.49},{"p":6,"r":3,"s":0,"d":6.10,"v":0.75},{"p":6,"r":3,"s":0,"d":6.32,"v":0.23},{"p":6,"r":3,"s":0,"d":6.53,"v":-0.82},{"p":6,"r":3,"s":0,"d":6.75,"v":-1.60},{"p":6,"r":3,"s":0,"d":7.00,"v":-1.73},{"p":6,"r":3,"s":0,"d":7.14,"v":-1.60},{"p":6,"r":3,"s":0,"d":7.25,"v":-3.43},{"p":6,"r":3,"s":0,"d":7.36,"v":-1.80},{"p":6,"r":3,"s":0,"d":7.47,"v":-1.99},
{"p":6,"r":4,"s":0,"d":2.76,"v":-0.23},{"p":6,"r":4,"s":0,"d":2.79,"v":1.47},{"p":6,"r":4,"s":0,"d":3.01,"v":1.34},{"p":6,"r":4,"s":0,"d":3.37,"v":1.41},{"p":6,"r":4,"s":0,"d":3.73,"v":1.60},{"p":6,"r":4,"s":0,"d":4.09,"v":1.34},{"p":6,"r":4,"s":0,"d":4.45,"v":1.27},{"p":6,"r":4,"s":0,"d":4.81,"v":1.34},{"p":6,"r":4,"s":0,"d":5.17,"v":1.21},{"p":6,"r":4,"s":0,"d":5.52,"v":1.41},{"p":6,"r":4,"s":0,"d":5.74,"v":0.88},{"p":6,"r":4,"s":0,"d":6.03,"v":1.47},{"p":6,"r":4,"s":0,"d":6.32,"v":0.36},{"p":6,"r":4,"s":0,"d":6.53,"v":-0.16},{"p":6,"r":4,"s":0,"d":6.75,"v":0.16},{"p":6,"r":4,"s":0,"d":6.96,"v":-1.21},{"p":6,"r":4,"s":0,"d":7.18,"v":-0.16},{"p":6,"r":4,"s":0,"d":7.40,"v":-0.88},{"p":6,"r":4,"s":0,"d":7.61,"v":-0.03},{"p":6,"r":4,"s":0,"d":7.76,"v":-1.73},{"p":6,"r":4,"s":0,"d":7.90,"v":-0.55},{"p":6,"r":4,"s":0,"d":8.01,"v":-2.91},{"p":6,"r":4,"s":0,"d":8.12,"v":-3.10},{"p":6,"r":4,"s":0,"d":8.22,"v":-3.30},
{"p":6,"r":5,"s":0,"d":2.63,"v":1.14},{"p":6,"r":5,"s":0,"d":2.65,"v":1.47},{"p":6,"r":5,"s":0,"d":2.83,"v":1.73},{"p":6,"r":5,"s":0,"d":3.01,"v":1.01},{"p":6,"r":5,"s":0,"d":3.30,"v":1.47},{"p":6,"r":5,"s":0,"d":3.66,"v":1.14},{"p":6,"r":5,"s":0,"d":3.94,"v":0.62},{"p":6,"r":5,"s":0,"d":4.16,"v":0.95},{"p":6,"r":5,"s":0,"d":4.37,"v":0.88},{"p":6,"r":5,"s":0,"d":4.59,"v":1.01},{"p":6,"r":5,"s":0,"d":4.84,"v":0.75},{"p":6,"r":5,"s":0,"d":5.02,"v":1.21},{"p":6,"r":5,"s":0,"d":5.31,"v":0.69},{"p":6,"r":5,"s":0,"d":5.60,"v":0.49},{"p":6,"r":5,"s":0,"d":5.89,"v":0.10},{"p":6,"r":5,"s":0,"d":6.10,"v":-0.42},{"p":6,"r":5,"s":0,"d":6.32,"v":-0.82},{"p":6,"r":5,"s":0,"d":6.53,"v":-1.34},{"p":6,"r":5,"s":0,"d":6.71,"v":-2.58},{"p":6,"r":5,"s":0,"d":6.82,"v":-3.69},{"p":6,"r":5,"s":0,"d":7.00,"v":-4.87},{"p":6,"r":5,"s":1,"d":7.25,"v":-4.02},{"p":6,"r":5,"s":1,"d":7.40,"v":-4.74},{"p":6,"r":5,"s":1,"d":7.54,"v":-3.56},{"p":6,"r":5,"s":1,"d":7.68,"v":-4.93}
]},
"spacing":22,
"vconcat":[
{"spacing":10,"hconcat":[
{"width":510,"height":558,"resolve":{"axis":{"x":"independent","y":"independent"}},"layer":[
{"transform":[{"filter":"datum.p==1"}],"mark":{"type":"line","strokeWidth":5,"strokeJoin":"round"},
"encoding":{"x":{"field":"v","type":"quantitative","scale":{"domain":[-7,3],"nice":false,"zero":false},"axis":{"orient":"bottom","values":[-6,-5,-4,-3,-2,-1,0,1,2],"labelExpr":"datum.value % 2 == 0 ? '' + datum.value : ''","tickSize":{"condition":{"test":"datum.value % 2 == 0","value":-27},"value":-13},"labelPadding":49,"title":null}},
"y":{"field":"d","type":"quantitative","scale":{"domain":[0,12],"reverse":true,"nice":false,"zero":false},"axis":{"orient":"left","values":[0,2,4,6,8,10,12],"labelExpr":"datum.value % 4 == 0 ? '' + datum.value : ''","tickSize":{"condition":{"test":"datum.value % 4 == 0","value":-27},"value":-13},"labelPadding":55,"title":"Depth (cm)","titlePadding":40}},
"color":{"field":"r","type":"quantitative","title":"Run no.","scale":{"type":"linear","domain":[1,1.5,2,2.5,3,3.5,4,4.5,5],"range":["#ff0000","#ff6232","#ffb462","#c0eb8e","#80ffb4","#40ebd4","#00b4eb","#4062fa","#8000ff"]},"legend":{"values":[1,2,3,4,5],"format":"d","orient":"none","legendX":1653,"legendY":63,"direction":"vertical","gradientLength":1065,"gradientThickness":46,"gradientStrokeColor":"black","gradientStrokeWidth":4,"labelFontSize":66,"labelOffset":18,"labelBaseline":"middle","titleFontSize":57,"titleFontWeight":"normal","titlePadding":35,"titleLimit":400,"titleColor":"black","labelColor":"black"}},
"detail":[{"field":"r","type":"nominal"},{"field":"s","type":"nominal"}],
"order":{"field":"d","type":"quantitative"}}},
{"data":{"name":"lab"},"mark":{"type":"text","text":"25 days","align":"left","baseline":"middle","fontSize":57,"color":"black"},
"encoding":{"x":{"datum":-5.75,"type":"quantitative","axis":{"orient":"top","values":[-6,-5,-4,-3,-2,-1,0,1,2],"labels":false,"tickSize":{"condition":{"test":"datum.value % 2 == 0","value":-27},"value":-13},"title":null}},
"y":{"datum":1.75,"type":"quantitative","axis":{"orient":"right","values":[2,4,6,8,10],"labels":false,"tickSize":{"condition":{"test":"datum.value % 4 == 0","value":-27},"value":-13},"title":null}}}}
]},
{"width":510,"height":558,"resolve":{"axis":{"x":"independent","y":"independent"}},
"title":{"text":"D","orient":"bottom","anchor":"middle","align":"left","dx":-150,"offset":-62,"fontSize":54,"fontStyle":"italic","fontWeight":"normal","color":"black","subtitle":"\u200b\u00a0\u00a0\u00a0b,std","subtitleFontSize":42,"subtitleColor":"black","subtitlePadding":-32},
"layer":[
{"transform":[{"filter":"datum.p==2"}],"mark":{"type":"line","strokeWidth":5,"strokeJoin":"round"},
"encoding":{"x":{"field":"v","type":"quantitative","scale":{"domain":[-7,3],"nice":false,"zero":false},"axis":{"orient":"bottom","values":[-6,-5,-4,-3,-2,-1,0,1,2],"labelExpr":"datum.value % 2 == 0 ? '' + datum.value : ''","tickSize":{"condition":{"test":"datum.value % 2 == 0","value":-27},"value":-13},"labelPadding":49,"title":"Log\u00a0\u00a0\u00a0\u00a0\u00a0\u00a0\u00a0\u00a0\u00a0\u00a0\u00a0(cm\u00b2 yr\u207b\u00b9)","titleFontSize":54,"titleAlign":"left","titleAnchor":"start","titleX":-6,"titlePadding":8}},
"y":{"field":"d","type":"quantitative","scale":{"domain":[0,12],"reverse":true,"nice":false,"zero":false},"axis":{"orient":"left","values":[2,4,6,8,10],"labels":false,"tickSize":{"condition":{"test":"datum.value % 4 == 0","value":-27},"value":-13},"title":null}},
"color":{"field":"r","type":"quantitative","title":"Run no.","scale":{"type":"linear","domain":[1,1.5,2,2.5,3,3.5,4,4.5,5],"range":["#ff0000","#ff6232","#ffb462","#c0eb8e","#80ffb4","#40ebd4","#00b4eb","#4062fa","#8000ff"]},"legend":{"values":[1,2,3,4,5],"format":"d","orient":"none","legendX":1653,"legendY":63,"direction":"vertical","gradientLength":1065,"gradientThickness":46,"gradientStrokeColor":"black","gradientStrokeWidth":4,"labelFontSize":66,"labelOffset":18,"labelBaseline":"middle","titleFontSize":57,"titleFontWeight":"normal","titlePadding":35,"titleLimit":400,"titleColor":"black","labelColor":"black"}},
"detail":[{"field":"r","type":"nominal"},{"field":"s","type":"nominal"}],
"order":{"field":"d","type":"quantitative"}}},
{"data":{"name":"lab"},"mark":{"type":"text","text":"50 days","align":"left","baseline":"middle","fontSize":57,"color":"black"},
"encoding":{"x":{"datum":-5.75,"type":"quantitative","axis":{"orient":"top","values":[-6,-5,-4,-3,-2,-1,0,1,2],"labels":false,"tickSize":{"condition":{"test":"datum.value % 2 == 0","value":-27},"value":-13},"title":null}},
"y":{"datum":1.75,"type":"quantitative","axis":{"orient":"right","values":[2,4,6,8,10],"labels":false,"tickSize":{"condition":{"test":"datum.value % 4 == 0","value":-27},"value":-13},"title":null}}}}
]},
{"width":510,"height":558,"resolve":{"axis":{"x":"independent","y":"independent"}},"layer":[
{"transform":[{"filter":"datum.p==3"}],"mark":{"type":"line","strokeWidth":5,"strokeJoin":"round"},
"encoding":{"x":{"field":"v","type":"quantitative","scale":{"domain":[-7,3],"nice":false,"zero":false},"axis":{"orient":"bottom","values":[-6,-5,-4,-3,-2,-1,0,1,2],"labelExpr":"datum.value % 2 == 0 ? '' + datum.value : ''","tickSize":{"condition":{"test":"datum.value % 2 == 0","value":-27},"value":-13},"labelPadding":49,"title":null}},
"y":{"field":"d","type":"quantitative","scale":{"domain":[0,12],"reverse":true,"nice":false,"zero":false},"axis":{"orient":"left","values":[2,4,6,8,10],"labels":false,"tickSize":{"condition":{"test":"datum.value % 4 == 0","value":-27},"value":-13},"title":null}},
"color":{"field":"r","type":"quantitative","title":"Run no.","scale":{"type":"linear","domain":[1,1.5,2,2.5,3,3.5,4,4.5,5],"range":["#ff0000","#ff6232","#ffb462","#c0eb8e","#80ffb4","#40ebd4","#00b4eb","#4062fa","#8000ff"]},"legend":{"values":[1,2,3,4,5],"format":"d","orient":"none","legendX":1653,"legendY":63,"direction":"vertical","gradientLength":1065,"gradientThickness":46,"gradientStrokeColor":"black","gradientStrokeWidth":4,"labelFontSize":66,"labelOffset":18,"labelBaseline":"middle","titleFontSize":57,"titleFontWeight":"normal","titlePadding":35,"titleLimit":400,"titleColor":"black","labelColor":"black"}},
"detail":[{"field":"r","type":"nominal"},{"field":"s","type":"nominal"}],
"order":{"field":"d","type":"quantitative"}}},
{"data":{"name":"lab"},"mark":{"type":"text","text":"100 days","align":"left","baseline":"middle","fontSize":57,"color":"black"},
"encoding":{"x":{"datum":-5.9,"type":"quantitative","axis":{"orient":"top","values":[-6,-5,-4,-3,-2,-1,0,1,2],"labels":false,"tickSize":{"condition":{"test":"datum.value % 2 == 0","value":-27},"value":-13},"title":null}},
"y":{"datum":1.75,"type":"quantitative","axis":{"orient":"right","values":[2,4,6,8,10],"labels":false,"tickSize":{"condition":{"test":"datum.value % 4 == 0","value":-27},"value":-13},"title":null}}}}
]}
]},
{"spacing":10,"hconcat":[
{"width":510,"height":558,"resolve":{"axis":{"x":"independent","y":"independent"}},"layer":[
{"transform":[{"filter":"datum.p==4"}],"mark":{"type":"line","strokeWidth":5,"strokeJoin":"round"},
"encoding":{"x":{"field":"v","type":"quantitative","scale":{"domain":[-7,3],"nice":false,"zero":false},"axis":{"orient":"bottom","values":[-6,-5,-4,-3,-2,-1,0,1,2],"labelExpr":"datum.value % 2 == 0 ? '' + datum.value : ''","tickSize":{"condition":{"test":"datum.value % 2 == 0","value":-27},"value":-13},"labelPadding":49,"title":null}},
"y":{"field":"d","type":"quantitative","scale":{"domain":[0,12],"reverse":true,"nice":false,"zero":false},"axis":{"orient":"left","values":[0,2,4,6,8,10,12],"labelExpr":"datum.value % 4 == 0 ? '' + datum.value : ''","tickSize":{"condition":{"test":"datum.value % 4 == 0","value":-27},"value":-13},"labelPadding":55,"title":"Depth (cm)","titlePadding":40}},
"color":{"field":"r","type":"quantitative","title":"Run no.","scale":{"type":"linear","domain":[1,1.5,2,2.5,3,3.5,4,4.5,5],"range":["#ff0000","#ff6232","#ffb462","#c0eb8e","#80ffb4","#40ebd4","#00b4eb","#4062fa","#8000ff"]},"legend":{"values":[1,2,3,4,5],"format":"d","orient":"none","legendX":1653,"legendY":63,"direction":"vertical","gradientLength":1065,"gradientThickness":46,"gradientStrokeColor":"black","gradientStrokeWidth":4,"labelFontSize":66,"labelOffset":18,"labelBaseline":"middle","titleFontSize":57,"titleFontWeight":"normal","titlePadding":35,"titleLimit":400,"titleColor":"black","labelColor":"black"}},
"detail":[{"field":"r","type":"nominal"},{"field":"s","type":"nominal"}],
"order":{"field":"d","type":"quantitative"}}},
{"data":{"name":"lab"},"mark":{"type":"text","text":"150 days","align":"left","baseline":"middle","fontSize":57,"color":"black"},
"encoding":{"x":{"datum":-5.7,"type":"quantitative","axis":{"orient":"top","values":[-6,-5,-4,-3,-2,-1,0,1,2],"labels":false,"tickSize":{"condition":{"test":"datum.value % 2 == 0","value":-27},"value":-13},"title":null}},
"y":{"datum":2.05,"type":"quantitative","axis":{"orient":"right","values":[2,4,6,8,10],"labels":false,"tickSize":{"condition":{"test":"datum.value % 4 == 0","value":-27},"value":-13},"title":null}}}}
]},
{"width":510,"height":558,"resolve":{"axis":{"x":"independent","y":"independent"}},
"title":{"text":"D","orient":"bottom","anchor":"middle","align":"left","dx":-150,"offset":-62,"fontSize":54,"fontStyle":"italic","fontWeight":"normal","color":"black","subtitle":"\u200b\u00a0\u00a0\u00a0b,std","subtitleFontSize":42,"subtitleColor":"black","subtitlePadding":-32},
"layer":[
{"transform":[{"filter":"datum.p==5"}],"mark":{"type":"line","strokeWidth":5,"strokeJoin":"round"},
"encoding":{"x":{"field":"v","type":"quantitative","scale":{"domain":[-7,3],"nice":false,"zero":false},"axis":{"orient":"bottom","values":[-6,-5,-4,-3,-2,-1,0,1,2],"labelExpr":"datum.value % 2 == 0 ? '' + datum.value : ''","tickSize":{"condition":{"test":"datum.value % 2 == 0","value":-27},"value":-13},"labelPadding":49,"title":"Log\u00a0\u00a0\u00a0\u00a0\u00a0\u00a0\u00a0\u00a0\u00a0\u00a0\u00a0(cm\u00b2 yr\u207b\u00b9)","titleFontSize":54,"titleAlign":"left","titleAnchor":"start","titleX":-6,"titlePadding":8}},
"y":{"field":"d","type":"quantitative","scale":{"domain":[0,12],"reverse":true,"nice":false,"zero":false},"axis":{"orient":"left","values":[2,4,6,8,10],"labels":false,"tickSize":{"condition":{"test":"datum.value % 4 == 0","value":-27},"value":-13},"title":null}},
"color":{"field":"r","type":"quantitative","title":"Run no.","scale":{"type":"linear","domain":[1,1.5,2,2.5,3,3.5,4,4.5,5],"range":["#ff0000","#ff6232","#ffb462","#c0eb8e","#80ffb4","#40ebd4","#00b4eb","#4062fa","#8000ff"]},"legend":{"values":[1,2,3,4,5],"format":"d","orient":"none","legendX":1653,"legendY":63,"direction":"vertical","gradientLength":1065,"gradientThickness":46,"gradientStrokeColor":"black","gradientStrokeWidth":4,"labelFontSize":66,"labelOffset":18,"labelBaseline":"middle","titleFontSize":57,"titleFontWeight":"normal","titlePadding":35,"titleLimit":400,"titleColor":"black","labelColor":"black"}},
"detail":[{"field":"r","type":"nominal"},{"field":"s","type":"nominal"}],
"order":{"field":"d","type":"quantitative"}}},
{"data":{"name":"lab"},"mark":{"type":"text","text":"250 days","align":"left","baseline":"middle","fontSize":57,"color":"black"},
"encoding":{"x":{"datum":-5.8,"type":"quantitative","axis":{"orient":"top","values":[-6,-5,-4,-3,-2,-1,0,1,2],"labels":false,"tickSize":{"condition":{"test":"datum.value % 2 == 0","value":-27},"value":-13},"title":null}},
"y":{"datum":2.05,"type":"quantitative","axis":{"orient":"right","values":[2,4,6,8,10],"labels":false,"tickSize":{"condition":{"test":"datum.value % 4 == 0","value":-27},"value":-13},"title":null}}}}
]},
{"width":510,"height":558,"resolve":{"axis":{"x":"independent","y":"independent"}},"layer":[
{"transform":[{"filter":"datum.p==6"}],"mark":{"type":"line","strokeWidth":5,"strokeJoin":"round"},
"encoding":{"x":{"field":"v","type":"quantitative","scale":{"domain":[-7,3],"nice":false,"zero":false},"axis":{"orient":"bottom","values":[-6,-5,-4,-3,-2,-1,0,1,2],"labelExpr":"datum.value % 2 == 0 ? '' + datum.value : ''","tickSize":{"condition":{"test":"datum.value % 2 == 0","value":-27},"value":-13},"labelPadding":49,"title":null}},
"y":{"field":"d","type":"quantitative","scale":{"domain":[0,12],"reverse":true,"nice":false,"zero":false},"axis":{"orient":"left","values":[2,4,6,8,10],"labels":false,"tickSize":{"condition":{"test":"datum.value % 4 == 0","value":-27},"value":-13},"title":null}},
"color":{"field":"r","type":"quantitative","title":"Run no.","scale":{"type":"linear","domain":[1,1.5,2,2.5,3,3.5,4,4.5,5],"range":["#ff0000","#ff6232","#ffb462","#c0eb8e","#80ffb4","#40ebd4","#00b4eb","#4062fa","#8000ff"]},"legend":{"values":[1,2,3,4,5],"format":"d","orient":"none","legendX":1653,"legendY":63,"direction":"vertical","gradientLength":1065,"gradientThickness":46,"gradientStrokeColor":"black","gradientStrokeWidth":4,"labelFontSize":66,"labelOffset":18,"labelBaseline":"middle","titleFontSize":57,"titleFontWeight":"normal","titlePadding":35,"titleLimit":400,"titleColor":"black","labelColor":"black"}},
"detail":[{"field":"r","type":"nominal"},{"field":"s","type":"nominal"}],
"order":{"field":"d","type":"quantitative"}}},
{"data":{"name":"lab"},"mark":{"type":"text","text":"350 days","align":"left","baseline":"middle","fontSize":57,"color":"black"},
"encoding":{"x":{"datum":-5.9,"type":"quantitative","axis":{"orient":"top","values":[-6,-5,-4,-3,-2,-1,0,1,2],"labels":false,"tickSize":{"condition":{"test":"datum.value % 2 == 0","value":-27},"value":-13},"title":null}},
"y":{"datum":2.05,"type":"quantitative","axis":{"orient":"right","values":[2,4,6,8,10],"labels":false,"tickSize":{"condition":{"test":"datum.value % 4 == 0","value":-27},"value":-13},"title":null}}}}
]}
]}
],
"config":{
"font":"Liberation Sans",
"view":{"stroke":"black","strokeWidth":5},
"axis":{"domain":false,"grid":false,"tickColor":"black","tickWidth":4.5,"labelColor":"black","labelFontSize":66,"labelFlush":false,"labelOverlap":false,"titleColor":"black","titleFontSize":57,"titleFontWeight":"normal"},
"title":{"color":"black"}
}
}
